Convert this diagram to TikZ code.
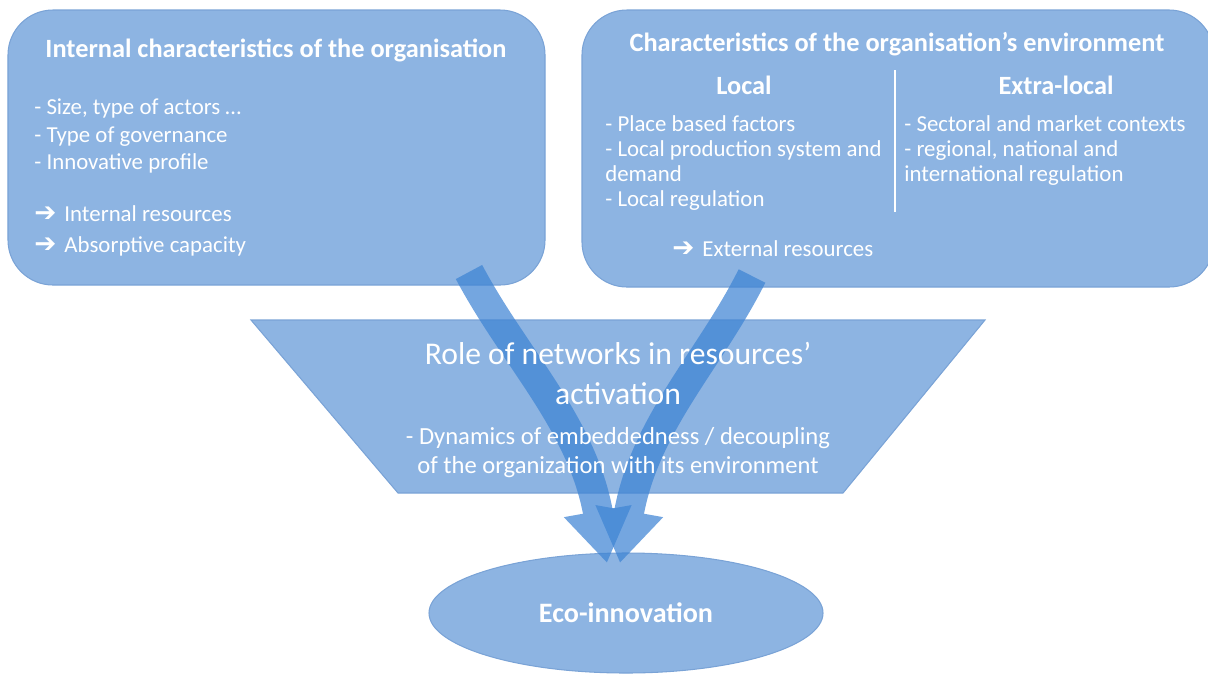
\documentclass[tikz,border=0pt]{standalone}
\usepackage{fontspec}
\setmainfont{Carlito}
\newfontfamily\dingfont{DejaVu Sans}
\usetikzlibrary{shapes.geometric,arrows.meta}
\definecolor{boxblue}{RGB}{141,180,226}
\definecolor{edgeblue}{RGB}{122,163,214}
\definecolor{flowblue}{RGB}{62,132,212}
\newcommand{\harr}{{\dingfont\bfseries\fontsize{15}{15}\selectfont\char"2794}\hspace{0.35em}}

\begin{document}
\begin{tikzpicture}[scale=0.2]
\tikzstyle{every node}+=[inner sep=0pt]
\tikzstyle{blob}=[draw=edgeblue, fill=boxblue, line width=0.6pt]
\tikzstyle{headtext}=[text=white, font=\fontsize{15}{18}\selectfont\bfseries]
\tikzstyle{bodytext}=[text=white, align=left, font=\fontsize{13}{15.9}\selectfont]
\tikzstyle{flow}=[flowblue, line width=17pt, -{Triangle[width=37pt,length=30pt]}]
\clip (0,0) rectangle (120.8,-67.3);
\useasboundingbox (0,0) rectangle (120.8,-67.3);
% shapes
\node [blob, rounded corners=0.9cm, minimum width=10.74cm, minimum height=5.5cm] (intl) at (27.65,-14.75) {};
\node [blob, rounded corners=0.9cm, minimum width=12.64cm, minimum height=5.54cm] (env) at (89.8,-14.85) {};
\draw [blob] (25.1,-32) -- (98.5,-32) -- (84.3,-49.3) -- (39.8,-49.3) -- cycle;
\node [blob, ellipse, minimum width=7.88cm, minimum height=2.4cm] (eco) at (62.6,-61.3) {};
% flows into eco-innovation
\coordinate (ltail) at (46.9,-27.2);
\coordinate (ltip) at (60.7,-56.3);
\coordinate (rtail) at (75.2,-27.6);
\coordinate (rtip) at (62.0,-56.3);
\begin{scope}[transparency group, opacity=0.72]
\draw [flow] (ltail) .. controls (51.4,-35.7) and (58.2,-42.3) .. (ltip);
\end{scope}
\begin{scope}[transparency group, opacity=0.72]
\draw [flow] (rtail) .. controls (71.0,-36.0) and (64.5,-42.3) .. (rtip);
\end{scope}
% texts
\node [headtext] (intltitle) at (27.6,-5.0) {Internal characteristics of the organisation};
\node [bodytext, anchor=west] (intllist) at (3.4,-13.6) {- Size, type of actors …\\- Type of governance\\- Innovative profile};
\node [bodytext, anchor=west, font=\fontsize{13}{17.6}\selectfont] (intlres) at (3.4,-23.05) {\harr Internal resources\\\harr Absorptive capacity};
\node [headtext] (envtitle) at (89.7,-4.4) {Characteristics of the organisation’s environment};
\node [headtext] (local) at (74.4,-8.5) {Local};
\node [headtext] (extra) at (105.6,-8.5) {Extra-local};
\draw [white, line width=0.6pt] (89.5,-7.0) -- (89.5,-21.2);
\node [bodytext, anchor=west, font=\fontsize{13}{14.2}\selectfont] (loclist) at (60.5,-16.3) {- Place based factors\\- Local production system and\\demand\\- Local regulation};
\node [bodytext, anchor=west, font=\fontsize{13}{14.2}\selectfont] (extlist) at (90.4,-15.05) {- Sectoral and market contexts\\- regional, national and\\international regulation};
\node [bodytext, anchor=west] (envres) at (67.2,-24.9) {\harr External resources};
\node [bodytext, align=center, font=\fontsize{18}{22.5}\selectfont] (roletitle) at (61.8,-37.35) {Role of networks in resources’\\activation};
\node [bodytext, align=center, font=\fontsize{14}{16.5}\selectfont] (roledesc) at (61.8,-45.25) {- Dynamics of embeddedness / decoupling\\of the organization with its environment};
\node [headtext, font=\fontsize{16}{18}\selectfont\bfseries] at (eco.center) {Eco-innovation};
\end{tikzpicture}
\end{document}
